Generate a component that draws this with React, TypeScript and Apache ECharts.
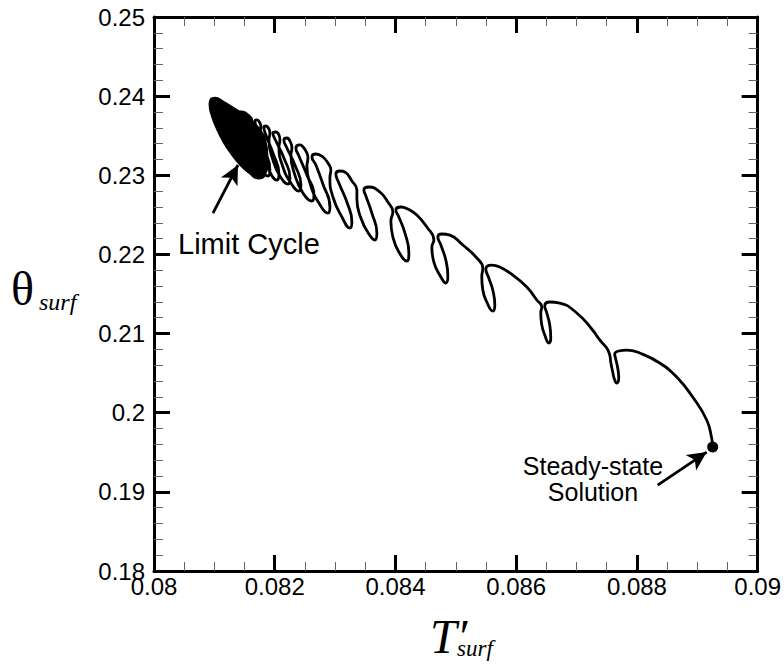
import React, { useEffect, useRef } from "react";
import * as echarts from "echarts";

// Axis ranges / ticks
const xMin = 0.08;
const xMax = 0.09;
const xInterval = 0.002;
const yMin = 0.18;
const yMax = 0.25;
const yInterval = 0.01;

// Outer boundary of the limit-cycle band: [T'surf, theta_surf]
const limitCycleOuter: number[][] = [
  [0.08096, 0.23976], [0.080927, 0.23901], [0.08096, 0.23762], [0.081043, 0.23597], [0.081159, 0.23421],
  [0.081291, 0.23269], [0.08144, 0.2313], [0.081589, 0.23029], [0.081722, 0.22966], [0.081805, 0.22978],
  [0.081854, 0.23092], [0.081871, 0.23256], [0.081838, 0.23433], [0.081738, 0.23585], [0.081573, 0.23711],
  [0.081358, 0.23825], [0.081142, 0.23926], [0.08101, 0.23976],
];

// Inner converging orbits of the limit cycle
const limitCycleInner: number[][] = [
  [0.080977, 0.23964], [0.08096, 0.23875], [0.08101, 0.23736], [0.081093, 0.23572], [0.081209, 0.23408],
  [0.081341, 0.23256], [0.08149, 0.23117], [0.081622, 0.23029], [0.081738, 0.22978], [0.081821, 0.23016],
  [0.081854, 0.23155], [0.081838, 0.23319], [0.081788, 0.23471], [0.081672, 0.2361], [0.081507, 0.23724],
  [0.081291, 0.23837], [0.081109, 0.23926],
  [0.08101, 0.23951], [0.08101, 0.2385], [0.081076, 0.23699], [0.081175, 0.23534], [0.081291, 0.2337],
  [0.081424, 0.23231], [0.081556, 0.23105], [0.081689, 0.23016], [0.081771, 0.22991], [0.081838, 0.23079],
  [0.081838, 0.23244], [0.081788, 0.23408], [0.081689, 0.23547], [0.08154, 0.23673], [0.081341, 0.238],
  [0.081159, 0.23901],
  [0.08106, 0.23939], [0.081076, 0.23825], [0.081142, 0.23673], [0.081242, 0.23496], [0.081374, 0.23332],
  [0.081507, 0.23193], [0.081639, 0.23079], [0.081755, 0.23004], [0.081821, 0.23041], [0.081838, 0.23193],
  [0.081788, 0.2337], [0.081689, 0.23509], [0.081556, 0.23635], [0.081374, 0.23762], [0.081192, 0.23875],
  [0.081142, 0.23901], [0.081159, 0.23787], [0.081225, 0.23635], [0.081324, 0.23458], [0.081457, 0.23294],
  [0.081589, 0.23155], [0.081722, 0.23041], [0.081805, 0.23016], [0.081838, 0.2313], [0.081805, 0.23319],
  [0.081722, 0.23471], [0.081589, 0.23597], [0.081407, 0.23724], [0.081242, 0.23837],
  [0.081258, 0.2385], [0.081275, 0.23736], [0.081341, 0.23572], [0.08144, 0.23395], [0.081573, 0.23231],
  [0.081705, 0.23092], [0.081805, 0.23016], [0.081838, 0.23092], [0.081821, 0.23269], [0.081738, 0.23446],
  [0.081606, 0.23585], [0.08144, 0.23711], [0.081308, 0.23812],
  [0.081391, 0.238], [0.081407, 0.23673], [0.081473, 0.23496], [0.081573, 0.23319], [0.081689, 0.23155],
  [0.081805, 0.23029], [0.081854, 0.23054], [0.081854, 0.23193], [0.081788, 0.23383], [0.081672, 0.23547],
  [0.081523, 0.23699], [0.081391, 0.238],
];

// Transient spiral loops, from the limit cycle out to the steady state
const transientPath: number[][] = [
  [0.081457, 0.238], [0.081556, 0.23762],
  [0.081622, 0.23686], [0.081606, 0.23597], [0.081672, 0.23319], [0.081771, 0.23092], [0.081887, 0.22991],
  [0.08192, 0.23067], [0.081821, 0.23345], [0.081705, 0.23585], [0.081672, 0.23686], [0.081705, 0.23699], [0.081755, 0.23661],
  [0.081771, 0.2361], [0.081755, 0.23522], [0.081821, 0.23256], [0.08192, 0.23041], [0.082036, 0.2294],
  [0.08207, 0.23016], [0.08197, 0.23282], [0.081854, 0.23509], [0.081821, 0.2361], [0.081854, 0.23623], [0.081904, 0.23585],
  [0.08192, 0.23534], [0.081904, 0.23446], [0.08197, 0.23193], [0.082086, 0.22991], [0.082218, 0.2289],
  [0.082252, 0.22966], [0.082152, 0.23218], [0.08202, 0.23433], [0.08197, 0.23534], [0.08202, 0.23547], [0.08207, 0.23509],
  [0.082086, 0.23446], [0.08207, 0.23357], [0.082136, 0.23105], [0.082268, 0.22902], [0.082401, 0.22801],
  [0.082434, 0.22877], [0.082334, 0.2313], [0.082202, 0.23345], [0.082152, 0.23446], [0.082202, 0.23471], [0.082252, 0.23433],
  [0.082285, 0.23345], [0.082268, 0.23256], [0.082334, 0.23004], [0.082467, 0.22776], [0.082616, 0.22675],
  [0.082649, 0.22751], [0.082533, 0.23004], [0.082401, 0.23244], [0.082351, 0.23345], [0.082417, 0.23383], [0.082483, 0.23345], [0.082533, 0.23282],
  [0.08255, 0.23218], [0.082533, 0.23117], [0.082599, 0.22865], [0.082732, 0.2265], [0.082881, 0.22523],
  [0.082914, 0.22599], [0.082798, 0.2289], [0.082682, 0.2313], [0.082616, 0.23231], [0.082682, 0.23269], [0.082798, 0.23231], [0.082881, 0.23155],
  [0.08293, 0.23067], [0.082914, 0.22966], [0.082964, 0.22726], [0.083113, 0.22473], [0.083245, 0.22334],
  [0.083278, 0.2241], [0.083195, 0.22662], [0.083063, 0.22902], [0.083013, 0.23016], [0.083079, 0.23054], [0.083162, 0.23041], [0.083278, 0.22928],
  [0.083361, 0.22814], [0.083361, 0.227], [0.083427, 0.2246], [0.08356, 0.22258], [0.083659, 0.22182],
  [0.083692, 0.22271], [0.083609, 0.22523], [0.08351, 0.22738], [0.083477, 0.22814], [0.08356, 0.22852], [0.083742, 0.22789], [0.083874, 0.22662],
  [0.083957, 0.22536], [0.083924, 0.22422], [0.083957, 0.2222], [0.084056, 0.22031], [0.084189, 0.21917],
  [0.084222, 0.22018], [0.084156, 0.22271], [0.084056, 0.22473], [0.084007, 0.22561], [0.084089, 0.22599], [0.084205, 0.22574], [0.084354, 0.22498], [0.08452, 0.22346],
  [0.084636, 0.22182], [0.084603, 0.22094], [0.084636, 0.21904], [0.084752, 0.21715], [0.084834, 0.21639],
  [0.084868, 0.21727], [0.084834, 0.21929], [0.084752, 0.22119], [0.084702, 0.2222], [0.084768, 0.22258], [0.084901, 0.22245], [0.085116, 0.22119], [0.085348, 0.21955],
  [0.085447, 0.21828], [0.08543, 0.21715], [0.085447, 0.2155], [0.085513, 0.21399], [0.085612, 0.21285],
  [0.085646, 0.21361], [0.085612, 0.2155], [0.085546, 0.21702], [0.085497, 0.21816], [0.085596, 0.21866], [0.085728, 0.21841], [0.085944, 0.2174], [0.086175, 0.21588], [0.086341, 0.21424],
  [0.086424, 0.21336], [0.086407, 0.2126], [0.086424, 0.21108], [0.086473, 0.20982], [0.08654, 0.20881],
  [0.086573, 0.20944], [0.086556, 0.21108], [0.086507, 0.2126], [0.086473, 0.21348], [0.086556, 0.21399], [0.086722, 0.21386], [0.087003, 0.2126], [0.087252, 0.21058], [0.087384, 0.20919], [0.0875, 0.20817],
  [0.08755, 0.20729], [0.087566, 0.20641], [0.087599, 0.20514], [0.087632, 0.20413], [0.087665, 0.20375],
  [0.087699, 0.20438], [0.087682, 0.20565], [0.087649, 0.20678], [0.087632, 0.20742], [0.087699, 0.2078], [0.087831, 0.20792], [0.088046, 0.20754],
  [0.088377, 0.20628], [0.088659, 0.20451], [0.088924, 0.20198], [0.089156, 0.19908], [0.089238, 0.1968], [0.089255, 0.19567],
];

const steadyState: number[] = [0.089255, 0.19567];

// Annotation arrows: [start, tip]
const limitArrow: number[][] = [[0.080977, 0.22523], [0.081391, 0.2313]];
const steadyArrow: number[][] = [[0.088344, 0.19086], [0.089156, 0.19503]];

const labelFont = "'Liberation Sans', Arial, Helvetica, sans-serif";
const serifFont = "'Liberation Serif', 'Times New Roman', serif";

function makeXAxis(position: "bottom" | "top", showLabel: boolean) {
  return {
    type: "value",
    position,
    min: xMin,
    max: xMax,
    interval: xInterval,
    axisLine: { show: true, onZero: false, lineStyle: { color: "#000", width: 3 } },
    axisTick: { show: true, inside: true, length: 16, lineStyle: { color: "#000", width: 3 } },
    minorTick: { show: true, splitNumber: 4, length: 9, lineStyle: { color: "#666", width: 1 } },
    axisLabel: { show: showLabel, color: "#000", fontSize: 24, fontFamily: labelFont, margin: 3 },
    splitLine: { show: false },
    minorSplitLine: { show: false },
  };
}

function makeYAxis(position: "left" | "right", showLabel: boolean) {
  return {
    type: "value",
    position,
    min: yMin,
    max: yMax,
    interval: yInterval,
    axisLine: { show: true, onZero: false, lineStyle: { color: "#000", width: 3 } },
    axisTick: { show: true, inside: true, length: 16, lineStyle: { color: "#000", width: 3 } },
    minorTick: { show: true, splitNumber: 5, length: 9, lineStyle: { color: "#666", width: 1 } },
    axisLabel: { show: showLabel, color: "#000", fontSize: 24, fontFamily: labelFont, margin: 9 },
    splitLine: { show: false },
    minorSplitLine: { show: false },
  };
}

export default function App() {
  const ref = useRef<HTMLDivElement>(null);

  useEffect(() => {
    if (!ref.current) return;
    const chart = echarts.init(ref.current, undefined, { renderer: "svg" });
    const arrowLine = (pts: number[][]) => [
      { coord: pts[0], symbol: "none" },
      { coord: pts[1], symbol: "arrow" },
    ];
    chart.setOption({
      animation: false,
      backgroundColor: "#fff",
      grid: { left: 154, right: 26, top: 17, bottom: 96, containLabel: false },
      xAxis: [makeXAxis("bottom", true), makeXAxis("top", false)],
      yAxis: [makeYAxis("left", true), makeYAxis("right", false)],
      series: [
        {
          name: "Limit cycle band",
          type: "custom",
          coordinateSystem: "cartesian2d",
          xAxisIndex: 0,
          yAxisIndex: 0,
          silent: true,
          data: [limitCycleOuter[0]],
          renderItem: (_params: any, api: any) => ({
            type: "polygon",
            shape: { points: limitCycleOuter.map((p) => api.coord(p)), smooth: 0.3 },
            style: { fill: "#000", stroke: "#000", lineWidth: 1 },
          }),
          z: 1,
        },
        {
          name: "Trajectory",
          type: "line",
          xAxisIndex: 0,
          yAxisIndex: 0,
          data: [...limitCycleOuter, ...limitCycleInner, ...transientPath],
          showSymbol: false,
          symbol: "none",
          smooth: 0.5,
          lineStyle: { color: "#000", width: 2.8 },
          z: 2,
        },
        {
          name: "Steady-state",
          type: "scatter",
          xAxisIndex: 0,
          yAxisIndex: 0,
          data: [steadyState],
          symbol: "circle",
          symbolSize: 11,
          itemStyle: { color: "#000", opacity: 1 },
          markLine: {
            silent: true,
            symbolSize: [14, 19],
            label: { show: false },
            lineStyle: { color: "#000", width: 2.8, type: "solid", opacity: 1 },
            data: [arrowLine(limitArrow), arrowLine(steadyArrow)],
          },
          z: 3,
        },
      ],
      graphic: [
        {
          type: "text",
          x: 178,
          y: 244,
          style: { text: "Limit Cycle", fontSize: 29, fontFamily: labelFont, fill: "#000", verticalAlign: "middle" },
        },
        {
          type: "text",
          x: 593,
          y: 466,
          style: { text: "Steady-state", fontSize: 25, fontFamily: labelFont, fill: "#000", align: "center", verticalAlign: "middle" },
        },
        {
          type: "text",
          x: 593,
          y: 492,
          style: { text: "Solution", fontSize: 25, fontFamily: labelFont, fill: "#000", align: "center", verticalAlign: "middle" },
        },
        {
          type: "text",
          x: 11,
          y: 288,
          style: { text: "θ", fontSize: 48, fontFamily: serifFont, fill: "#000", verticalAlign: "middle" },
        },
        {
          type: "text",
          x: 39,
          y: 302,
          style: { text: "surf", fontSize: 24, fontStyle: "italic", fontFamily: serifFont, fill: "#000", verticalAlign: "middle" },
        },
        {
          type: "text",
          x: 430,
          y: 612,
          style: {
            text: "{t|T′}{s|surf}",
            verticalAlign: "top",
            fill: "#000",
            rich: {
              t: { fontSize: 48, lineHeight: 48, fontStyle: "italic", fontFamily: serifFont, fill: "#000", width: 27 },
              s: { fontSize: 23, lineHeight: 19, fontStyle: "italic", fontFamily: serifFont, fill: "#000", verticalAlign: "bottom" },
            },
          },
        },
      ],
    });
    return () => chart.dispose();
  }, []);

  return (
    <div
      ref={ref}
      style={{ position: "fixed", left: 0, top: 0, width: 784, height: 667, background: "#fff" }}
    />
  );
}
